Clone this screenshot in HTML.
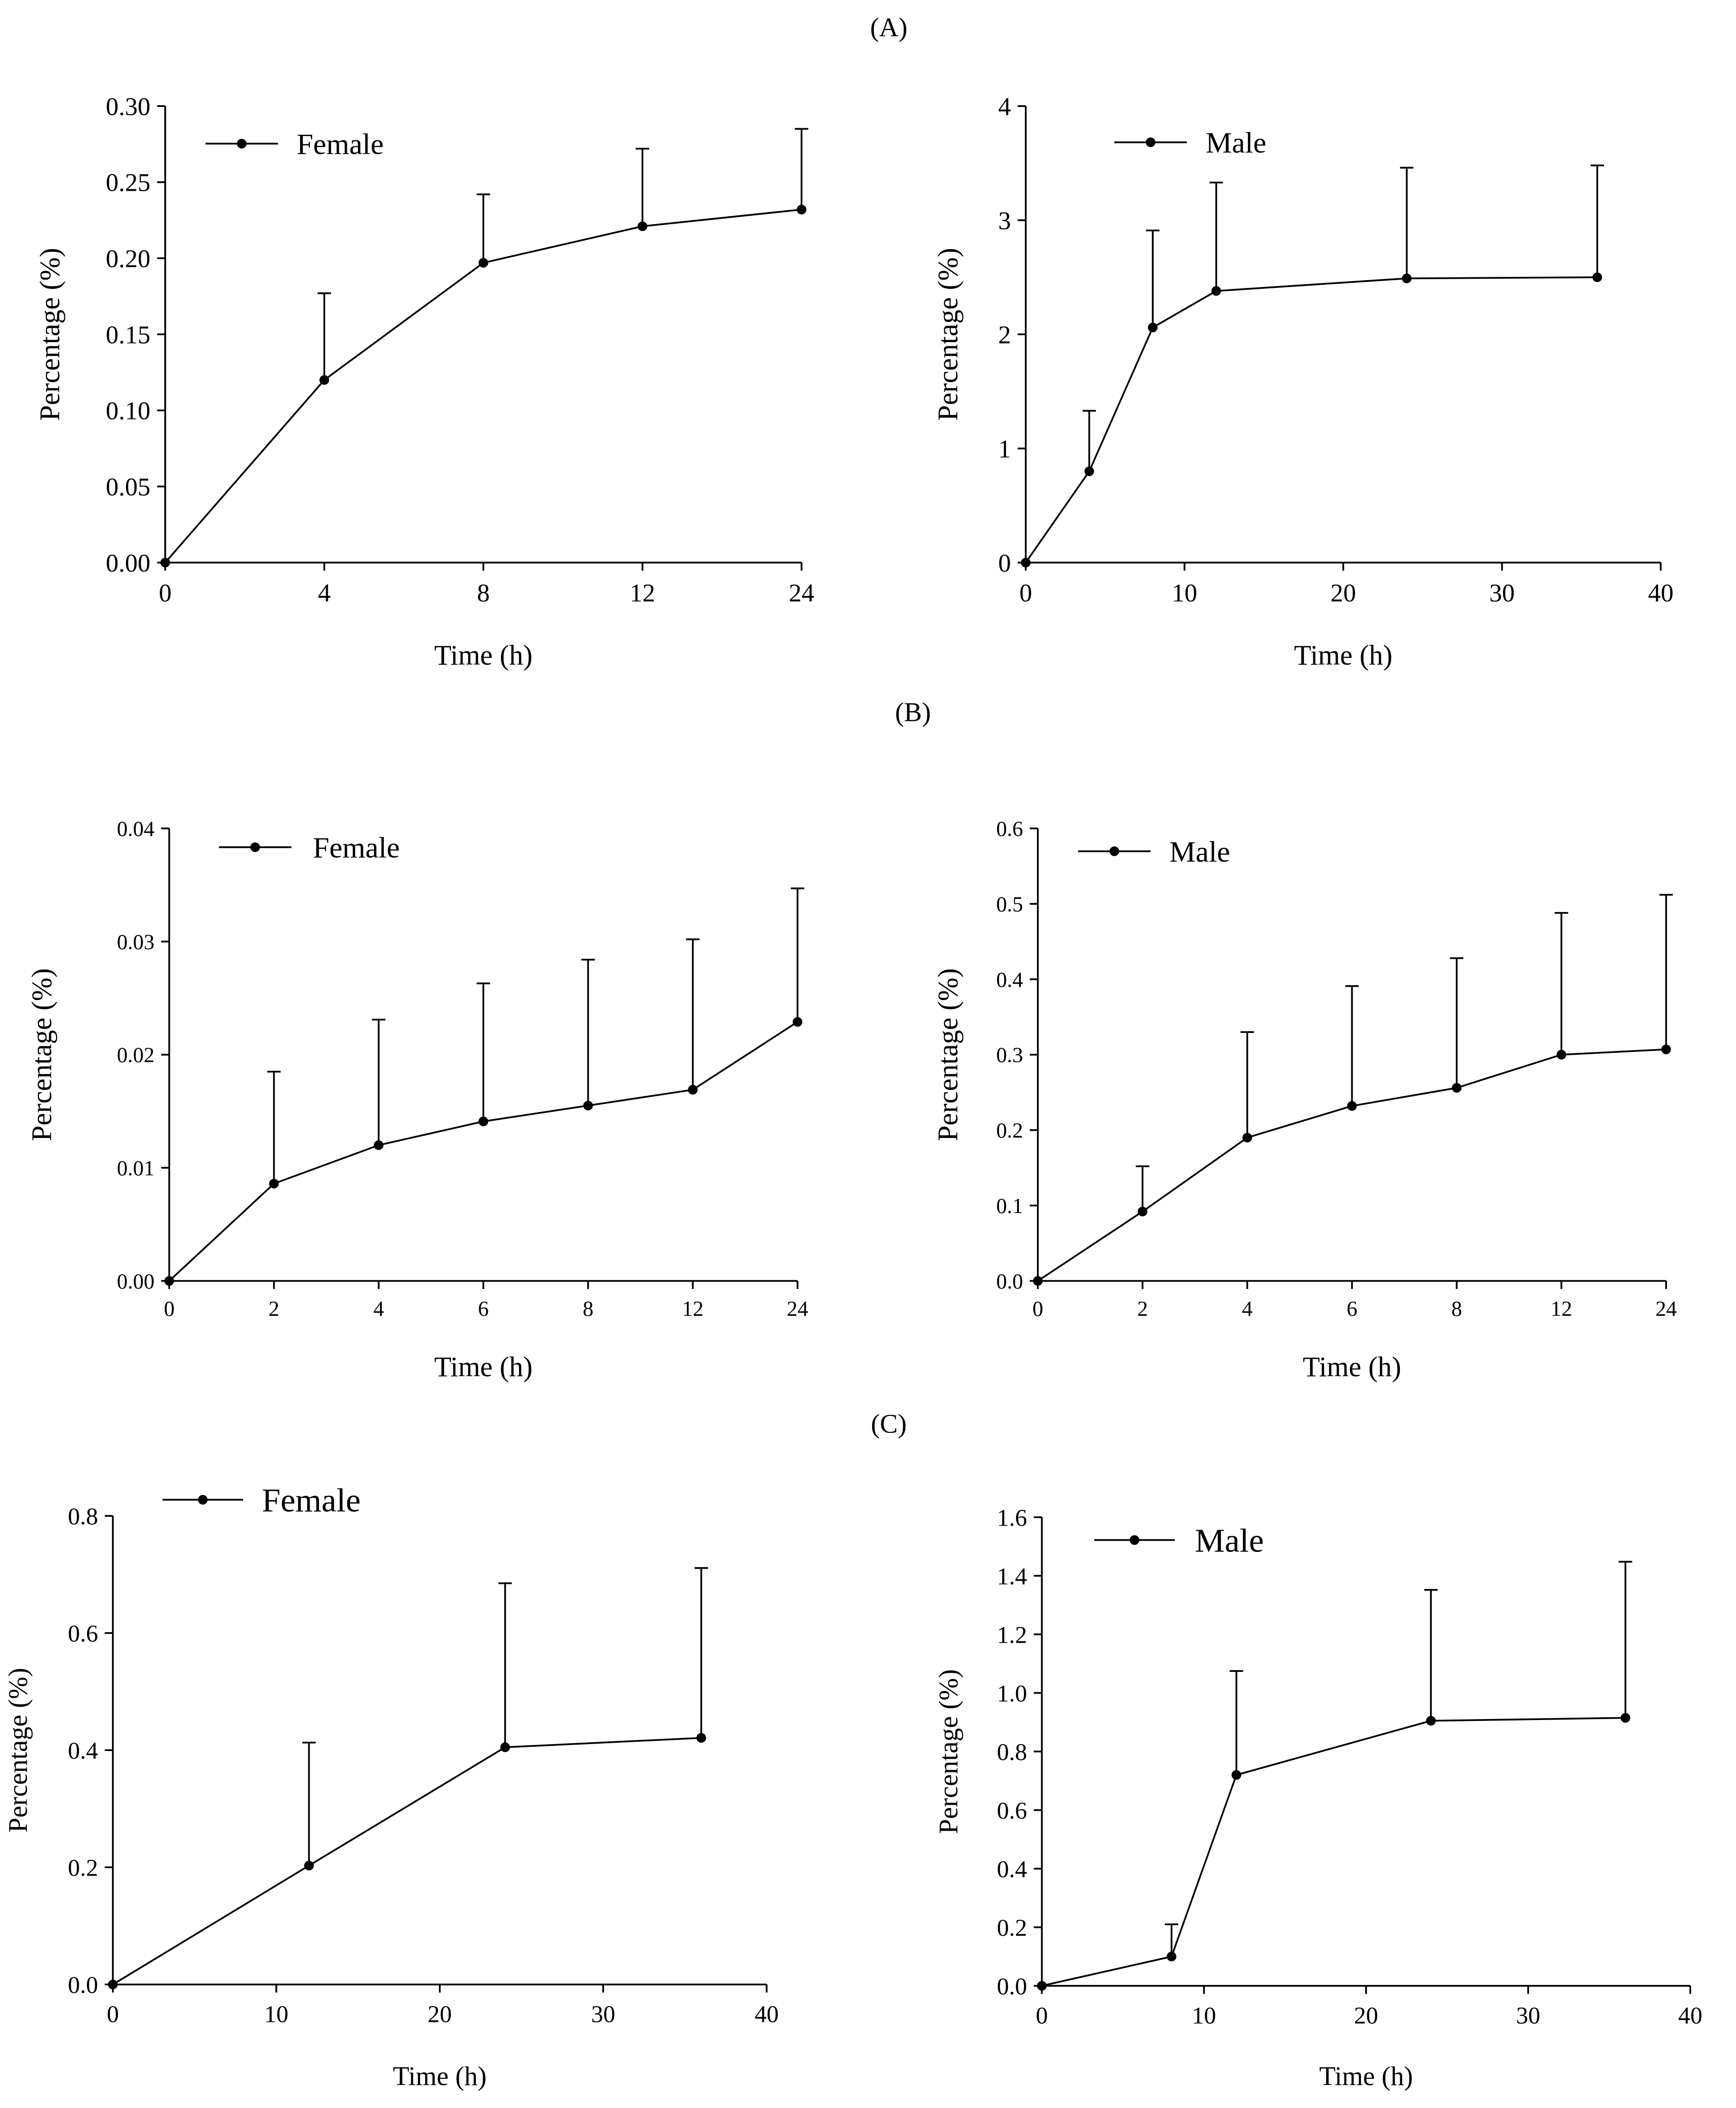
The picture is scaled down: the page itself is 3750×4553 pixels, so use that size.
<!DOCTYPE html>
<html><head><meta charset="utf-8"><style>html,body{margin:0;padding:0;background:#fff}svg{display:block}</style></head>
<body>
<svg id="fig" xmlns="http://www.w3.org/2000/svg" width="3750" height="4553" viewBox="0 0 1293 1570" font-family="Liberation Serif, serif">
<rect width="1293" height="1570" fill="#fff"/>
<text x="662" y="27" font-size="20" text-anchor="middle">(A)</text>
<text x="680" y="537" font-size="20" text-anchor="middle">(B)</text>
<text x="662" y="1067" font-size="20" text-anchor="middle">(C)</text>
</svg>
<script>
// Panel A female
const aFemCats=["0","4","8","12","24"];
const aFemVals=[0,0.12,0.197,0.221,0.232];
const aFemErrTop=[null,0.177,0.242,0.272,0.285];
const aFemYTicks=["0.00","0.05","0.10","0.15","0.20","0.25","0.30"];
// Panel A male
const aMaleTimes=[0,4,8,12,24,36];
const aMaleVals=[0,0.8,2.06,2.38,2.49,2.5];
const aMaleErrTop=[null,1.33,2.91,3.33,3.46,3.48];
const aMaleXTicks=["0","10","20","30","40"];
const aMaleYTicks=["0","1","2","3","4"];
// Panel B female
const bFemCats=["0","2","4","6","8","12","24"];
const bFemVals=[0,0.0086,0.012,0.0141,0.0155,0.0169,0.0229];
const bFemErrTop=[null,0.0185,0.0231,0.0263,0.0284,0.0302,0.0347];
const bFemYTicks=["0.00","0.01","0.02","0.03","0.04"];
// Panel B male
const bMaleCats=["0","2","4","6","8","12","24"];
const bMaleVals=[0,0.092,0.19,0.232,0.256,0.3,0.307];
const bMaleErrTop=[null,0.152,0.33,0.391,0.428,0.488,0.512];
const bMaleYTicks=["0.0","0.1","0.2","0.3","0.4","0.5","0.6"];
// Panel C female
const cFemTimes=[0,12,24,36];
const cFemVals=[0,0.203,0.405,0.421];
const cFemErrTop=[null,0.413,0.685,0.711];
const cFemXTicks=["0","10","20","30","40"];
const cFemYTicks=["0.0","0.2","0.4","0.6","0.8"];
// Panel C male
const cMaleTimes=[0,8,12,24,36];
const cMaleVals=[0,0.1,0.72,0.905,0.915];
const cMaleErrTop=[null,0.21,1.075,1.352,1.448];
const cMaleXTicks=["0","10","20","30","40"];
const cMaleYTicks=["0.0","0.2","0.4","0.6","0.8","1.0","1.2","1.4","1.6"];

const NS="http://www.w3.org/2000/svg";
const svg=document.getElementById('fig');
function mk(tag,attrs,parent){const e=document.createElementNS(NS,tag);for(const k in attrs)e.setAttribute(k,attrs[k]);(parent||svg).appendChild(e);return e;}

function panel(o){
  const g=mk('g',{});
  
  
  const yMax=parseFloat(o.yTicks[o.yTicks.length-1]);
  const ys=v=>o.y0-(v/yMax)*(o.y0-o.y1);
  let xs, xs_i;
  if(o.cats){ xs_i=i=>o.x0+i*(o.x1-o.x0)/(o.cats.length-1); }
  else { const xm=parseFloat(o.xTicks[o.xTicks.length-1]); xs=v=>o.x0+(v/xm)*(o.x1-o.x0); xs_i=i=>xs(o.times[i]); }
  const sw=1.3;
  const ya=mk('line',{x1:o.x0,y1:o.y0,x2:o.x0,y2:o.y1,stroke:'#000','stroke-width':sw},g);
  
  const xa=mk('line',{x1:o.x0,y1:o.y0,x2:o.x1,y2:o.y0,stroke:'#000','stroke-width':sw},g);
  
  o.yTicks.forEach(t=>{const y=ys(parseFloat(t));
    mk('line',{x1:o.x0-6,y1:y,x2:o.x0,y2:y,stroke:'#000','stroke-width':sw},g);
    const tx=mk('text',{x:o.x0-11,y:y+o.fs*0.35,'font-size':o.fs,'text-anchor':'end'},g);tx.textContent=t;
    });
  const xl=o.cats?o.cats:o.xTicks;
  xl.forEach((t,i)=>{const x=o.cats?xs_i(i):xs(parseFloat(t));
    mk('line',{x1:x,y1:o.y0,x2:x,y2:o.y0+6,stroke:'#000','stroke-width':sw},g);
    const tx=mk('text',{x:x,y:o.y0+o.fs+10,'font-size':o.fs,'text-anchor':'middle'},g);tx.textContent=t;
    });
  o.err.forEach((e,i)=>{if(e==null)return;const x=xs_i(i);
    const l=mk('line',{x1:x,y1:ys(o.vals[i]),x2:x,y2:ys(e),stroke:'#000','stroke-width':sw},g);
    
    mk('line',{x1:x-5,y1:ys(e),x2:x+5,y2:ys(e),stroke:'#000','stroke-width':sw},g);});
  const pts=o.vals.map((v,i)=>xs_i(i)+','+ys(v)).join(' ');
  const pl=mk('polyline',{points:pts,fill:'none',stroke:'#000','stroke-width':sw},g);
  
  o.vals.forEach((v,i)=>{const c=mk('circle',{cx:xs_i(i),cy:ys(v),r:3.6,fill:'#000'},g);
    });
  const L=o.leg;
  const ll=mk('line',{x1:L[0],y1:L[1],x2:L[2],y2:L[1],stroke:'#000','stroke-width':sw},g);
  
  mk('circle',{cx:(L[0]+L[2])/2,cy:L[1],r:3.6,fill:'#000'},g);
  const lt=mk('text',{x:L[3],y:L[1]+L[4]*0.35,'font-size':L[4]},g);lt.textContent=o.label;
  
  const yt=mk('text',{x:0,y:0,'font-size':o.tfs,'text-anchor':'middle',transform:`translate(${o.ytx},${(o.y0+o.y1)/2}) rotate(-90)`},g);
  yt.textContent='Percentage (%)';
  const xt=mk('text',{x:(o.x0+o.x1)/2,y:o.xty,'font-size':o.tfs,'text-anchor':'middle'},g);
  xt.textContent='Time (h)';
}
panel({name:'chart-a-female',x0:123,x1:597,y0:419,y1:79,cats:aFemCats,vals:aFemVals,err:aFemErrTop,yTicks:aFemYTicks,fs:19,tfs:21,leg:[153,107,207,221,22],label:'Female',ytx:44,xty:495});
panel({name:'chart-a-male',x0:764,x1:1237,y0:419,y1:79,times:aMaleTimes,xTicks:aMaleXTicks,vals:aMaleVals,err:aMaleErrTop,yTicks:aMaleYTicks,fs:19,tfs:21,leg:[830,106,884,898,22],label:'Male',ytx:713,xty:495});
panel({name:'chart-b-female',x0:126,x1:594,y0:954,y1:617,cats:bFemCats,vals:bFemVals,err:bFemErrTop,yTicks:bFemYTicks,fs:16,tfs:21,leg:[163,631,217,233,22],label:'Female',ytx:38,xty:1025});
panel({name:'chart-b-male',x0:773,x1:1241,y0:954,y1:617,cats:bMaleCats,vals:bMaleVals,err:bMaleErrTop,yTicks:bMaleYTicks,fs:16,tfs:21,leg:[803,634,857,871,22],label:'Male',ytx:713,xty:1025});
panel({name:'chart-c-female',x0:84,x1:571,y0:1478,y1:1129,times:cFemTimes,xTicks:cFemXTicks,vals:cFemVals,err:cFemErrTop,yTicks:cFemYTicks,fs:18,tfs:20,leg:[121,1117,181,195,25],label:'Female',ytx:20,xty:1553});
panel({name:'chart-c-male',x0:776,x1:1259,y0:1479,y1:1130,times:cMaleTimes,xTicks:cMaleXTicks,vals:cMaleVals,err:cMaleErrTop,yTicks:cMaleYTicks,fs:18,tfs:20,leg:[815,1147,875,890,25],label:'Male',ytx:713,xty:1553});
</script>
</body></html>
